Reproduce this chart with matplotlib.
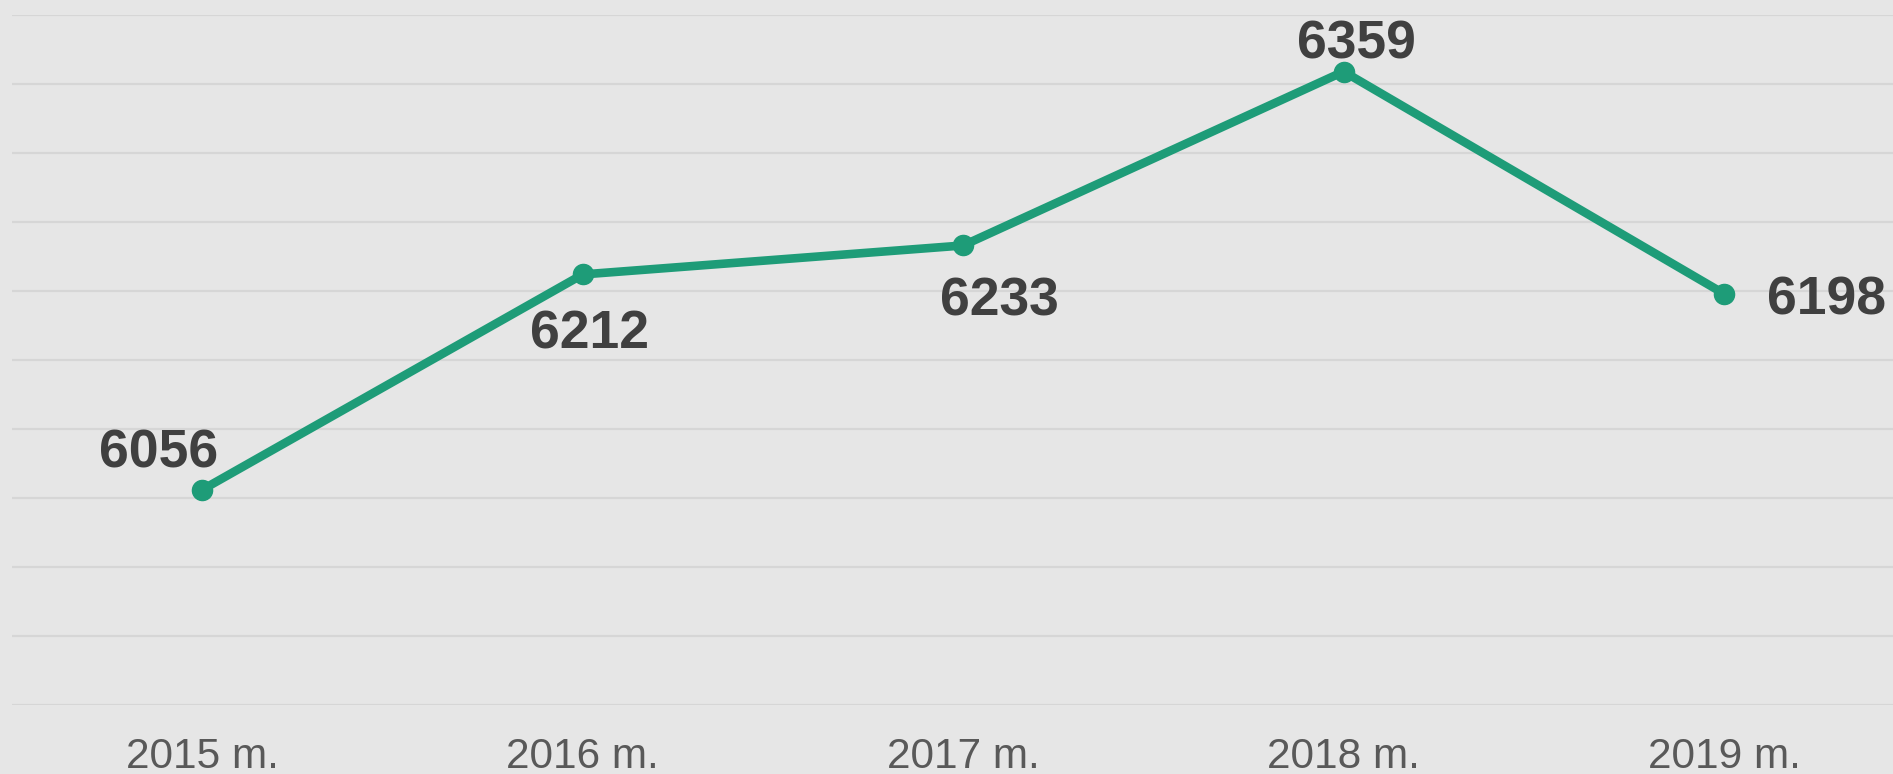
import matplotlib
matplotlib.use("Agg")
import matplotlib.pyplot as plt

categories = ["2015 m.", "2016 m.", "2017 m.", "2018 m.", "2019 m."]
values = [6056, 6212, 6233, 6359, 6198]
y_ticks = [5900, 5950, 6000, 6050, 6100, 6150, 6200, 6250, 6300, 6350, 6400]

# label offsets in pixels (dx, dy) relative to each point
label_offsets = [(-44, 36), (7, -60), (36, -56), (13, 27), (102, -7)]

W, H = 1893, 774
fig = plt.figure(figsize=(W / 100, H / 100), dpi=100)
bg = "#e6e6e6"
fig.patch.set_facecolor(bg)
ax = fig.add_axes([12 / W, 69 / H, (W - 12) / W, 690 / H])
ax.set_facecolor(bg)

x = list(range(len(categories)))
ax.plot(x, values, color="#1e9c78", lw=6.2, marker="o", ms=14.5,
        solid_capstyle="round", zorder=3, clip_on=False)

ax.set_xlim(-0.5, 4.444)
ax.set_ylim(5900, 6400)
ax.set_yticks(y_ticks)
ax.set_xticks(x)
ax.set_xticklabels(categories, fontsize=30.5, color="#595959",
                   family="Liberation Sans")
ax.tick_params(axis="x", length=0, pad=23)
ax.tick_params(axis="y", length=0, labelleft=False)
ax.grid(axis="y", color="#d6d6d6", lw=1.6, zorder=0)
for s in ax.spines.values():
    s.set_visible(False)

for xi, v, (dx, dy) in zip(x, values, label_offsets):
    ax.annotate(str(v), (xi, v), xytext=(dx, dy), textcoords="offset pixels",
                ha="center", va="center", fontsize=38.5, fontweight="bold",
                color="#404040", family="Liberation Sans", zorder=4,
                annotation_clip=False)

fig.savefig("out.png", dpi=100, facecolor=bg)
